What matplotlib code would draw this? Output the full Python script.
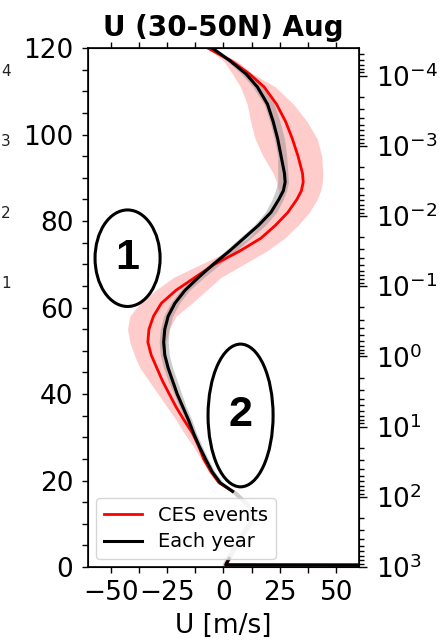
import matplotlib
matplotlib.use('Agg')
import matplotlib.pyplot as plt
import numpy as np
from matplotlib.patches import Ellipse
from matplotlib.ticker import (FixedLocator, LogFormatterSciNotation,
                               LogLocator, MultipleLocator, NullFormatter)

nan = np.nan

# height levels (km), top to bottom
z_km = [120, 117, 114, 111, 107, 103, 99, 95, 91, 89, 87, 85, 82, 79, 76, 73,
        70, 67, 64, 61, 58, 55, 52, 49, 46, 43, 40, 37, 34, 31, 28, 25, 22,
        19.5, 17.5, 15.5, 13, 10.5, 8, 5, 2, 0.5, 0]

# climatology of every year (black) and its spread (grey)
u_each_year = [-5, 3, 10, 15, 19.5, 22, 24, 25.5, 27, 27.3, 26.5, 24.5, 21,
               15.5, 9, 2.5, -4.5, -11, -17, -21.5, -24.5, -26, -26.5, -26,
               -24.5, -22.5, -20.5, -18, -15.5, -13.3, -10.8, -8, -5, -1.5, 4,
               nan, nan, nan, nan, nan, 2.5, 1, 999]
u_year_lo = [-6, 1.5, 8, 13, 18, 20.5, 22.5, 24, 24, 24, 23, 21.5, 18.5,
             13.5, 7, 0.5, -6.5, -13, -19, -23.5, -26.5, -28, -28.5, -28,
             -26.5, -24.5, -22, -19.5, -17, -14.5, -12, -9.2, -6.2, -2.8, 3,
             7.2, 11.7, 10.7, 7.5, 3.9, 0.7, -0.7, -1]
u_year_hi = [-4, 5, 12.5, 18, 22.5, 25, 27, 28, 28.5, 28.8, 28, 26.5, 23.5,
             18.5, 12, 5.5, -1.5, -8.5, -15, -19.5, -22.5, -24, -24.5, -24,
             -22.5, -20.5, -18.5, -16.5, -14, -12, -9.5, -6.8, -3.8, -0.2, 5.8,
             9.8, 14.3, 13.3, 10.1, 6.5, 3.3, 1.9, 1.6]

# composite of CES events (red) and its spread (pink)
u_ces = [-7, 3.5, 11.5, 18, 23.5, 27.5, 30.5, 33, 35, 35.3, 34.5, 32.5, 28.5,
         23, 16.5, 7, -4, -12.5, -21, -27.5, -31, -33, -33.5, -32, -29.5, -27,
         -24, -21, -17.5, -13.8, -11, -8.8, -5.5, -2, 4,
         nan, nan, nan, nan, nan, 2.5, 1, 999]
u_ces_lo = [-7, 0, 4, 7.5, 10.5, 12, 14, 17.5, 22, 23.5, 24.5, 24, 21, 16, 11,
            2, -10, -22, -30, -37, -41.5, -42.5, -41.5, -39.5, -37, -33, -29,
            -25, -21, -17.5, -13.5, -10, -6.5, -3, 3,
            nan, nan, nan, nan, nan, nan, nan, nan]
u_ces_hi = [-7, 6, 13, 23, 31, 37, 41.5, 43.5, 44, 43.8, 43, 41.5, 38, 33, 27,
            19, 9, -1, -7.5, -14, -21, -24, -25.5, -26, -24, -22.5, -20.5, -18,
            -15.5, -13, -10.5, -8, -5, -1.5, 5,
            nan, nan, nan, nan, nan, nan, nan, nan]

P0_HPA = 1000.0
SCALE_HEIGHT_KM = 7.05
pressure_ticks = [1e3, 1e2, 1e1, 1e0, 1e-1, 1e-2, 1e-3, 1e-4]
# stray exponent digits of the neighbouring panel, cut at the left edge
edge_digits = ['4', '3', '2', '1']


def plot_profile(out_path: str) -> None:
    """Plot zonal wind profile for CES events vs. every year."""
    fig = plt.figure(figsize=(4.42, 6.42), dpi=100)
    ax = fig.add_axes([0.1991, 0.1168, 0.6131, 0.8084])

    ax.fill_betweenx(z_km, u_ces_lo, u_ces_hi, color='red', alpha=0.2, lw=0)
    ax.fill_betweenx(z_km, u_year_lo, u_year_hi, color='gray', alpha=0.4, lw=0)
    ax.plot(u_ces, z_km, color='red', lw=2.0, label='CES events')
    ax.plot(u_each_year, z_km, color='black', lw=2.2, label='Each year')

    ax.set_xlim(-60, 60)
    ax.set_ylim(0, 120)
    ax.xaxis.set_major_locator(MultipleLocator(25))
    ax.xaxis.set_minor_locator(MultipleLocator(12.5))
    ax.yaxis.set_major_locator(MultipleLocator(20))
    ax.yaxis.set_minor_locator(MultipleLocator(5))
    ax.tick_params(which='both', top=True, right=False, length=4.5,
                   width=1, labelsize=19, pad=5)
    ax.tick_params(axis='y', pad=6)
    for sp in ax.spines.values():
        sp.set_linewidth(1.2)
    ax.set_xlabel('U [m/s]', fontsize=19, labelpad=5)
    ax.set_title('U (30-50N) Aug', fontsize=20, fontweight='bold', pad=9)

    leg = ax.legend(loc='lower left', fontsize=14, handlelength=2.0,
                    borderaxespad=0.4, labelspacing=0.4)
    leg.get_frame().set_linewidth(1)

    # pressure axis
    ax2 = ax.twinx()
    ax2.set_yscale('log')
    p_bot = P0_HPA * np.exp(-0 / SCALE_HEIGHT_KM)
    p_top = P0_HPA * np.exp(-120 / SCALE_HEIGHT_KM)
    ax2.set_ylim(p_bot, p_top)
    ax2.yaxis.set_major_locator(FixedLocator(pressure_ticks))
    ax2.yaxis.set_minor_locator(LogLocator(base=10, subs=np.arange(2, 10),
                                           numticks=20))
    ax2.yaxis.set_major_formatter(LogFormatterSciNotation())
    ax2.yaxis.set_minor_formatter(NullFormatter())
    ax2.tick_params(which='major', length=6, width=1, labelsize=19, pad=6)
    ax2.tick_params(which='minor', length=3.5, width=1)

    # marked regions
    for cx, cy, h, lab in [(0.146, 0.595, 0.186, '1'), (0.563, 0.292, 0.275, '2')]:
        ax.add_patch(Ellipse((cx, cy), 0.24, h, transform=ax.transAxes,
                             fill=False, lw=2.2, ec='black', zorder=5))
        ax.text(cx, cy, lab, transform=ax.transAxes, ha='center', va='center',
                fontsize=31, fontweight='bold', family='Liberation Sans',
                zorder=6)

    for y_px, d in zip([72, 142, 213, 283], edge_digits):
        fig.text(6 / 442, 1 - y_px / 642, d, ha='center', va='center',
                 fontsize=11, color='#222222')

    plt.savefig(out_path, dpi=100)
    plt.close(fig)


plot_profile('out.png')
